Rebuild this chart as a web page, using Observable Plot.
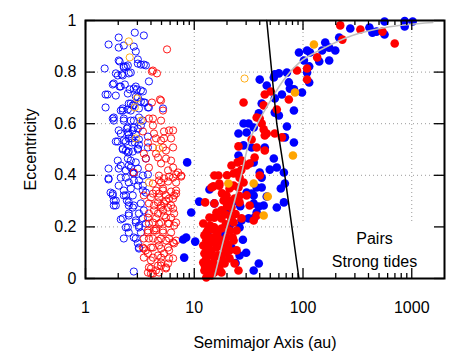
<!DOCTYPE html>
<html><head><meta charset="utf-8">
<script src="https://cdn.jsdelivr.net/npm/d3@7"></script>
<script src="https://cdn.jsdelivr.net/npm/@observablehq/plot@0.6"></script>
<style>body{margin:0;background:#fff}</style>
</head><body><div id="chart"></div>
<script>
// Semimajor axis (au), eccentricity
const openBlue = [
[2.84,0.953],[3.44,0.942],[2.02,0.934],[1.63,0.907],[2.02,0.895],[2.25,0.903],[2.90,0.880],[2.78,0.899],[2.06,0.841],[1.50,0.814],[2.35,0.822],[2.25,0.822],[3.03,0.833],[3.23,0.829],[3.59,0.826],[1.90,0.795],[2.15,0.791],[2.50,0.795],[2.61,0.798],[3.83,0.764],[1.82,0.756],[2.06,0.744],[2.30,0.752],[2.55,0.733],[2.78,0.736],[2.97,0.733],[3.37,0.725],[1.53,0.713],[1.90,0.709],[2.45,0.717],[2.90,0.705],[2.61,0.678],[3.23,0.686],[3.52,0.682],[1.53,0.663],[2.20,0.659],[2.72,0.671],[5.16,0.659],[2.11,0.651],[2.45,0.655],[3.10,0.659],[3.83,0.663],
[2.02,0.845],[3.03,0.849],[3.44,0.829],[2.25,0.818],[2.45,0.826],[1.98,0.787],[2.20,0.787],[1.78,0.752],[2.11,0.744],[2.90,0.744],[3.23,0.729],[1.60,0.713],[3.03,0.702],[3.44,0.682],[2.50,0.678],[2.78,0.671],[3.75,0.663],[2.20,0.651],[2.61,0.651],[1.82,0.624],[2.25,0.620],[2.78,0.612],[3.10,0.624],[2.45,0.585],[2.78,0.585],[3.23,0.593],[2.11,0.562],[2.50,0.558],[2.90,0.558],[3.75,0.550],[1.98,0.531],[2.35,0.531],[2.67,0.527],[3.10,0.519],[2.20,0.500],[2.50,0.492],[3.03,0.500],
[1.78,0.620],[1.82,0.612],[2.25,0.612],[2.61,0.612],[3.37,0.612],[2.40,0.581],[2.45,0.566],[2.72,0.574],[3.03,0.581],[1.90,0.531],[2.25,0.535],[2.50,0.543],[2.67,0.543],[2.84,0.527],[3.10,0.539],[3.75,0.508],[2.20,0.504],[2.45,0.488],[2.72,0.492],[3.03,0.504],[1.98,0.457],[2.45,0.465],[2.61,0.457],[2.90,0.450],[3.59,0.465],[1.63,0.426],[2.35,0.419],[2.61,0.430],[3.03,0.426],[1.63,0.388],[2.11,0.391],[2.35,0.391],[2.50,0.372],[2.78,0.380],[3.37,0.399],[3.75,0.403],[1.70,0.333],[2.25,0.341],[2.61,0.349],[3.03,0.360],[3.37,0.341],
[1.78,0.322],[2.25,0.322],[1.82,0.302],[1.90,0.283],[2.50,0.283],[2.78,0.283],[3.23,0.291],[2.50,0.244],[2.11,0.229],[3.10,0.252],[3.37,0.233],[2.90,0.217],[2.45,0.198],[3.10,0.198],[3.59,0.213],[2.25,0.155],[2.90,0.155],[3.03,0.136],[3.10,0.120],[2.78,0.027],
[1.63,0.384],[1.78,0.329],[1.90,0.302],[1.82,0.283],[2.35,0.322],[2.50,0.295],[2.72,0.275],[2.20,0.233],[2.50,0.252],[2.90,0.225],[3.10,0.205],[2.35,0.198],[2.78,0.159],[3.10,0.116],[2.02,0.426],[2.50,0.438],[2.78,0.407],[3.10,0.380],[3.37,0.360],[3.59,0.333],
[2.02,0.574],[2.35,0.496],[2.11,0.438],[2.72,0.411],[2.02,0.360],[2.40,0.302],[2.72,0.322],[2.50,0.178],[3.23,0.178],[3.44,0.264]
];
const openRed = [
[5.62,0.888],[4.08,0.802],[4.54,0.795],[4.17,0.806],[4.08,0.682],[4.84,0.694],[4.95,0.690],[5.16,0.651],[4.17,0.620],[4.95,0.612],[3.83,0.620],[4.17,0.593],[5.87,0.574],[6.39,0.574],[3.37,0.570],[4.26,0.562],[5.27,0.570],[4.45,0.543],[5.27,0.543],[6.12,0.543],[4.95,0.535],[3.75,0.527],[6.39,0.508],[5.16,0.508],[3.44,0.484],[4.45,0.484],[4.17,0.508],[5.50,0.496],[4.64,0.469],[3.59,0.465],[5.50,0.465],[6.12,0.457],[4.95,0.446],[6.39,0.430],[3.83,0.430],[5.74,0.419],[7.11,0.411],[7.58,0.399],[4.74,0.399],[6.39,0.391],[4.17,0.368],[4.95,0.372],[5.74,0.376],[6.81,0.372],[4.45,0.341],[5.16,0.341],[6.12,0.337],[6.81,0.341],[2.78,0.411],
[3.44,0.322],[4.17,0.329],[4.74,0.329],[5.50,0.322],[6.53,0.322],[3.83,0.291],[4.64,0.295],[5.27,0.291],[6.12,0.283],[4.26,0.264],[5.16,0.264],[6.53,0.252],[3.75,0.236],[4.45,0.233],[5.50,0.236],[3.83,0.213],[4.74,0.213],[5.87,0.213],[6.81,0.217],[3.75,0.178],[4.26,0.186],[5.16,0.186],[6.12,0.178],[3.44,0.155],[4.17,0.155],[4.95,0.155],[5.87,0.155],[6.81,0.147],[3.37,0.120],[4.00,0.120],[4.74,0.128],[5.74,0.120],[6.53,0.136],[3.75,0.097],[4.64,0.089],[5.27,0.097],[6.39,0.078],[4.00,0.070],[4.95,0.062],[5.74,0.058],[4.00,0.039],[4.45,0.031],[4.17,0.019],[5.50,0.039],[3.75,0.023],[4.95,0.050],[4.95,0.283],[5.87,0.310],[4.45,0.194],[5.50,0.147],[3.59,0.109],
[4.74,0.380],[5.27,0.388],[5.87,0.395],[6.81,0.403],[7.58,0.395],[5.16,0.349],[6.81,0.329],[4.00,0.314],[4.74,0.314],[5.50,0.302],[6.39,0.310],[4.26,0.283],[4.95,0.275],[5.74,0.275],[6.39,0.271],[3.83,0.252],[4.64,0.252],[5.27,0.244],[6.12,0.236],[4.17,0.217],[4.95,0.217],[5.74,0.213],[6.53,0.205],[3.75,0.186],[4.45,0.186],[5.16,0.178],[3.83,0.155],[4.64,0.147],[6.39,0.140],[3.44,0.116],[4.17,0.120],[4.95,0.116],[5.87,0.109],[3.44,0.081],[4.17,0.081],[4.95,0.081],[5.87,0.078],[3.83,0.043],[4.64,0.050],[5.50,0.043],[4.00,0.019],[4.74,0.023]
];
const openOrange = [[2.50,0.919],[2.55,0.857],[2.97,0.698],[2.84,0.663],[3.23,0.612],[2.90,0.543],[4.74,0.504],[3.83,0.372],[29.0,0.775]];
const pairsBlue = [
[8.61,0.450],[11.1,0.298],[9.38,0.256],[7.91,0.151],[8.43,0.159],[10.2,0.143],[8.08,0.081],[13.8,0.345],[15.3,0.291],[13.5,0.163],[25.5,0.477],[33.7,0.508],[35.2,0.450],[30.3,0.333],[35.2,0.291],[27.2,0.225],[31.6,0.233],[35.9,0.236],[26.1,0.198],[21.1,0.205],[22.0,0.120],[26.1,0.089],[35.2,0.031],[39.2,0.058],[82.5,0.527],[53.9,0.465],[57.4,0.430],[49.5,0.422],[66.7,0.411],[41.7,0.391],[68.1,0.368],[62.5,0.349],[37.5,0.353],[41.7,0.353],[35.2,0.322],[46.4,0.318],[66.7,0.295],[43.5,0.283],[39.2,0.279],[57.4,0.275],[37.5,0.256],
[20,0.27],[24,0.30],[19,0.12],[28,0.15],[30,0.10],[24,0.06],[18,0.17],[26.5,0.28],[28.4,0.516],[40,0.411],[33.7,0.329],
[562,0.996],[861,0.998],[1020,0.996],[861,0.977],[408,0.973],[272,0.969],[435,0.953],[474,0.957],[562,0.946],[215,0.934],[160,0.915],[174,0.895],[150,0.884],[198,0.884],[91.8,0.876],[109,0.884],[116,0.876],[102,0.845],[141,0.841],[174,0.845],[114,0.822],[109,0.798],[114,0.760],[71.1,0.798],[60.0,0.795],[55.0,0.791],[53.9,0.779],[40.0,0.771],[46.4,0.748],[74.1,0.760],[75.8,0.736],[97.9,0.721],[82.5,0.733],[55.0,0.698],[41.7,0.678],[82.5,0.651],[39.2,0.640],[60.0,0.632],[31.6,0.601],[28.4,0.601],[71.1,0.589],[30.3,0.566],[25.5,0.562],[68.1,0.547],[44.5,0.508],[35.2,0.585],[55.0,0.643],[64.0,0.713]
];
const pairsRed = [
[15.3,0.399],[16.7,0.399],[15.0,0.357],[17.0,0.368],[22.0,0.438],[24.5,0.411],[23.0,0.407],[26.1,0.391],[28.4,0.372],[21.1,0.349],[25.5,0.353],[23.5,0.310],[26.1,0.295],[22.0,0.275],[17.8,0.264],[16.0,0.256],[15.3,0.236],[17.8,0.233],[21.1,0.244],[23.0,0.217],[27.2,0.233],[13.5,0.194],[15.3,0.198],[17.8,0.194],[21.1,0.186],[24.5,0.186],[12.4,0.167],[14.4,0.159],[16.7,0.155],[19.8,0.159],[23.0,0.147],[12.1,0.128],[13.8,0.136],[16.0,0.120],[18.6,0.120],[21.1,0.109],[24.5,0.109],[12.4,0.097],[13.8,0.089],[15.3,0.081],[17.8,0.089],[12.1,0.062],[13.5,0.058],[15.0,0.058],[16.7,0.050],[19.0,0.058],[12.4,0.031],[13.8,0.023],[15.3,0.023],[17.8,0.023],[12.9,0.004],[14.4,0.012],[21.1,0.078],[23.5,0.058],[25.5,0.031],[12.9,0.078],[14.4,0.109],[16.0,0.147],[12.9,0.147],[14.4,0.039],[17.0,0.039],[12.9,0.116],[12.1,0.213],[14.4,0.353],[17.0,0.360],[12.6,0.295],[13.8,0.236],[15.3,0.291],
[13.0,0.18],[14.0,0.205],[16.3,0.175],[18.2,0.14],[19.5,0.10],[20.5,0.13],[22.5,0.16],[19,0.25],[20,0.28],[24,0.25],[18,0.33],[21,0.30],[26,0.32],[23,0.36],[20,0.40],[27,0.42],[25,0.45],[12.5,0.05],[13.2,0.13],[15.6,0.14],[16.5,0.09],[18.5,0.07],[14.8,0.19],[19.5,0.21],[22,0.23],
[220,0.981],[337,0.965],[538,0.957],[697,0.911],[230,0.926],[135,0.857],[109,0.771],[88,0.806],[74.1,0.694],[57.4,0.655],[50.5,0.725],[44.5,0.713],[37.5,0.624],[40.0,0.620],[43.5,0.578],[44.5,0.554],[64.0,0.547],[25.5,0.512],[33.7,0.539],[35.9,0.469],[28.4,0.682],[37.5,0.508],[44.5,0.496],[40.0,0.399],[37.5,0.244],[35.2,0.225],[109,0.814],[43.5,0.671],[41.7,0.601],[46.4,0.562],[55.0,0.562],[30.3,0.438],[27.2,0.457],[19.8,0.322],[30.3,0.322],[32.3,0.283],[18.6,0.302],[32.3,0.446]
];
const pairsOrange = [[126,0.907],[84.3,0.721],[80.8,0.477],[47.4,0.318],[43.5,0.244],[35.2,0.368],[20.6,0.368]];
const grayCurve = [[15.2,0],[20,0.2],[22.6,0.275],[27,0.4],[32.3,0.535],[38,0.6],[48.4,0.678],[68,0.775],[98,0.845],[141,0.884],[284,0.942],[574,0.973],[1560,0.992]];
const blackCurve = [[91.8,0],[79,0.2],[68,0.4],[57.4,0.6],[51.6,0.8],[46.4,1]];
const xMajor = [1,10,100,1000];
const xMinor = [2,3,4,5,6,7,8,9,20,30,40,50,60,70,80,90,200,300,400,500,600,700,800,900];
const xGrid = [10,100,1000];
const yTicks = [0,0.2,0.4,0.6,0.8,1];
const yGrid = [0.2,0.4,0.6,0.8];
const keyLabels = ["Pairs","Strong tides"];

const X = d => d[0], Y = d => d[1];
const gridStyle = {stroke:"#9a9a9a", strokeOpacity:1, strokeWidth:1, strokeDasharray:"1,3"};
const chart = Plot.plot({
  width: 471, height: 355,
  marginLeft: 85, marginRight: 27, marginTop: 20, marginBottom: 77,
  style: {fontFamily: "'Liberation Sans', Arial, sans-serif", fontSize: "16px", background: "white", color: "black"},
  x: {type: "log", domain: [1, 2000]},
  y: {domain: [0, 1]},
  marks: [
    Plot.gridX(xGrid, gridStyle),
    Plot.gridY(yGrid, gridStyle),
    Plot.frame({fill:"white", stroke:"none", insetLeft:215, insetTop:202}),
    Plot.dot(openBlue, {x:X, y:Y, r:3.6, stroke:"#0000ff", strokeWidth:0.9}),
    Plot.dot(openRed, {x:X, y:Y, r:3.6, stroke:"#ff0000", strokeWidth:0.9}),
    Plot.dot(openOrange, {x:X, y:Y, r:3.6, stroke:"#ffa500", strokeWidth:0.9}),
    Plot.dot(pairsBlue, {x:X, y:Y, r:4.3, fill:"#0000ff"}),
    Plot.dot(pairsRed, {x:X, y:Y, r:4.3, fill:"#ff0000"}),
    Plot.dot(pairsOrange, {x:X, y:Y, r:4.3, fill:"#ffa500"}),
    Plot.line(grayCurve, {x:X, y:Y, stroke:"#c0c0c0", strokeWidth:1.6, curve:"catmull-rom"}),
    Plot.line(blackCurve, {x:X, y:Y, stroke:"black", strokeWidth:1.5}),
    Plot.tickX(xMajor, {x:d=>d, insetTop:248, strokeWidth:1.3}),
    Plot.tickX(xMajor, {x:d=>d, insetBottom:248, strokeWidth:1.3}),
    Plot.tickX(xMinor, {x:d=>d, insetTop:253, strokeWidth:1.3}),
    Plot.tickX(xMinor, {x:d=>d, insetBottom:253, strokeWidth:1.3}),
    Plot.tickY(yTicks, {y:d=>d, insetRight:349, strokeWidth:1.3}),
    Plot.tickY(yTicks, {y:d=>d, insetLeft:349, strokeWidth:1.3}),
    Plot.frame({stroke:"black", strokeWidth:2}),
    Plot.axisX(xMajor, {tickSize:0, tickPadding:23, tickFormat:d=>String(d), fontSize:16,
      label:"Semimajor Axis (au)", labelAnchor:"center", labelArrow:"none", labelOffset:69}),
    Plot.axisY(yTicks, {tickSize:0, tickPadding:9, tickFormat:d=>String(d), fontSize:16,
      label:"Eccentricity", labelAnchor:"center", labelArrow:"none", labelOffset:61}),
    Plot.text([keyLabels[0]], {text:d=>d, frameAnchor:"bottom-right", dx:-70, dy:-40, textAnchor:"middle", lineAnchor:"middle", fontSize:16}),
    Plot.text([keyLabels[1]], {text:d=>d, frameAnchor:"bottom-right", dx:-70, dy:-17, textAnchor:"middle", lineAnchor:"middle", fontSize:16})
  ]
});
document.getElementById("chart").append(chart);
</script>
</body></html>
